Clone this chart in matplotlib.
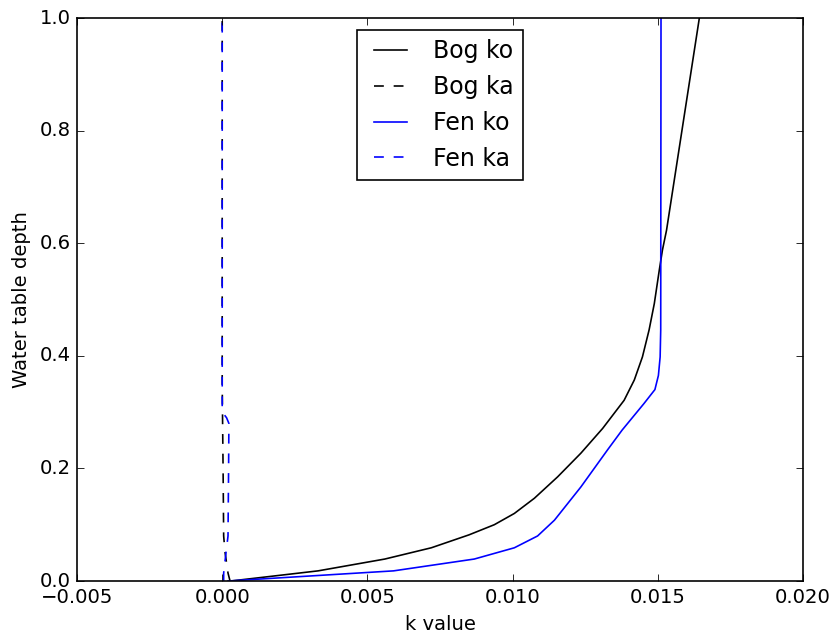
import matplotlib
matplotlib.use("Agg")
import matplotlib.pyplot as plt

# water table depth samples and k values
bog_ko_y = [0.0, 0.018, 0.039, 0.059, 0.082, 0.10, 0.12, 0.147, 0.185, 0.227, 0.271,
            0.321, 0.357, 0.398, 0.446, 0.493, 0.552, 0.588, 0.623, 1.0]
bog_ko_x = [0.0003, 0.0033, 0.0056, 0.0072, 0.0085, 0.00937, 0.01006, 0.01075, 0.01155,
            0.01235, 0.0131, 0.01384, 0.01419, 0.01447, 0.0147, 0.01488, 0.01505,
            0.01516, 0.0153, 0.01643]

fen_ko_y = [0.0, 0.018, 0.039, 0.059, 0.080, 0.108, 0.167, 0.233, 0.268, 0.315, 0.340,
            0.365, 0.398, 0.446, 1.0]
fen_ko_x = [0.0002, 0.0059, 0.00868, 0.01006, 0.01086, 0.01144, 0.01235, 0.01327,
            0.01377, 0.01452, 0.0149, 0.01502, 0.01508, 0.0151, 0.01511]

bog_ka_y = [0.0, 0.014, 0.05, 0.08, 0.2, 0.35, 1.0]
bog_ka_x = [0.00027, 0.0002, 0.0001, 0.00005, 0.00003, 0.0, 0.0]

fen_ka_y = [0.0, 0.014, 0.05, 0.08, 0.2, 0.28, 0.29, 0.30, 1.0]
fen_ka_x = [0.00005, 0.00005, 0.00013, 0.0002, 0.00022, 0.00023, 0.00015, 0.0, 0.0]

plt.style.use("classic")
# reference looks like it was rendered at ~118 dpi
fig = plt.figure(figsize=(837 / 118, 641 / 118), dpi=118, facecolor="white")
ax = fig.add_subplot(111)
fig.subplots_adjust(left=0.092, right=0.9594, bottom=0.0936, top=0.9719)

ax.plot(bog_ko_x, bog_ko_y, "k-", label="Bog ko")
ax.plot(bog_ka_x, bog_ka_y, "k--", label="Bog ka")
ax.plot(fen_ko_x, fen_ko_y, "b-", label="Fen ko")
ax.plot(fen_ka_x, fen_ka_y, "b--", label="Fen ka")

ax.set_xlim(-0.005, 0.020)
ax.set_ylim(0, 1.0)
ax.set_xlabel("k value")
ax.set_ylabel("Water table depth")
ax.legend(loc="upper center")

fig.savefig("out.png", dpi=118, facecolor="white")
